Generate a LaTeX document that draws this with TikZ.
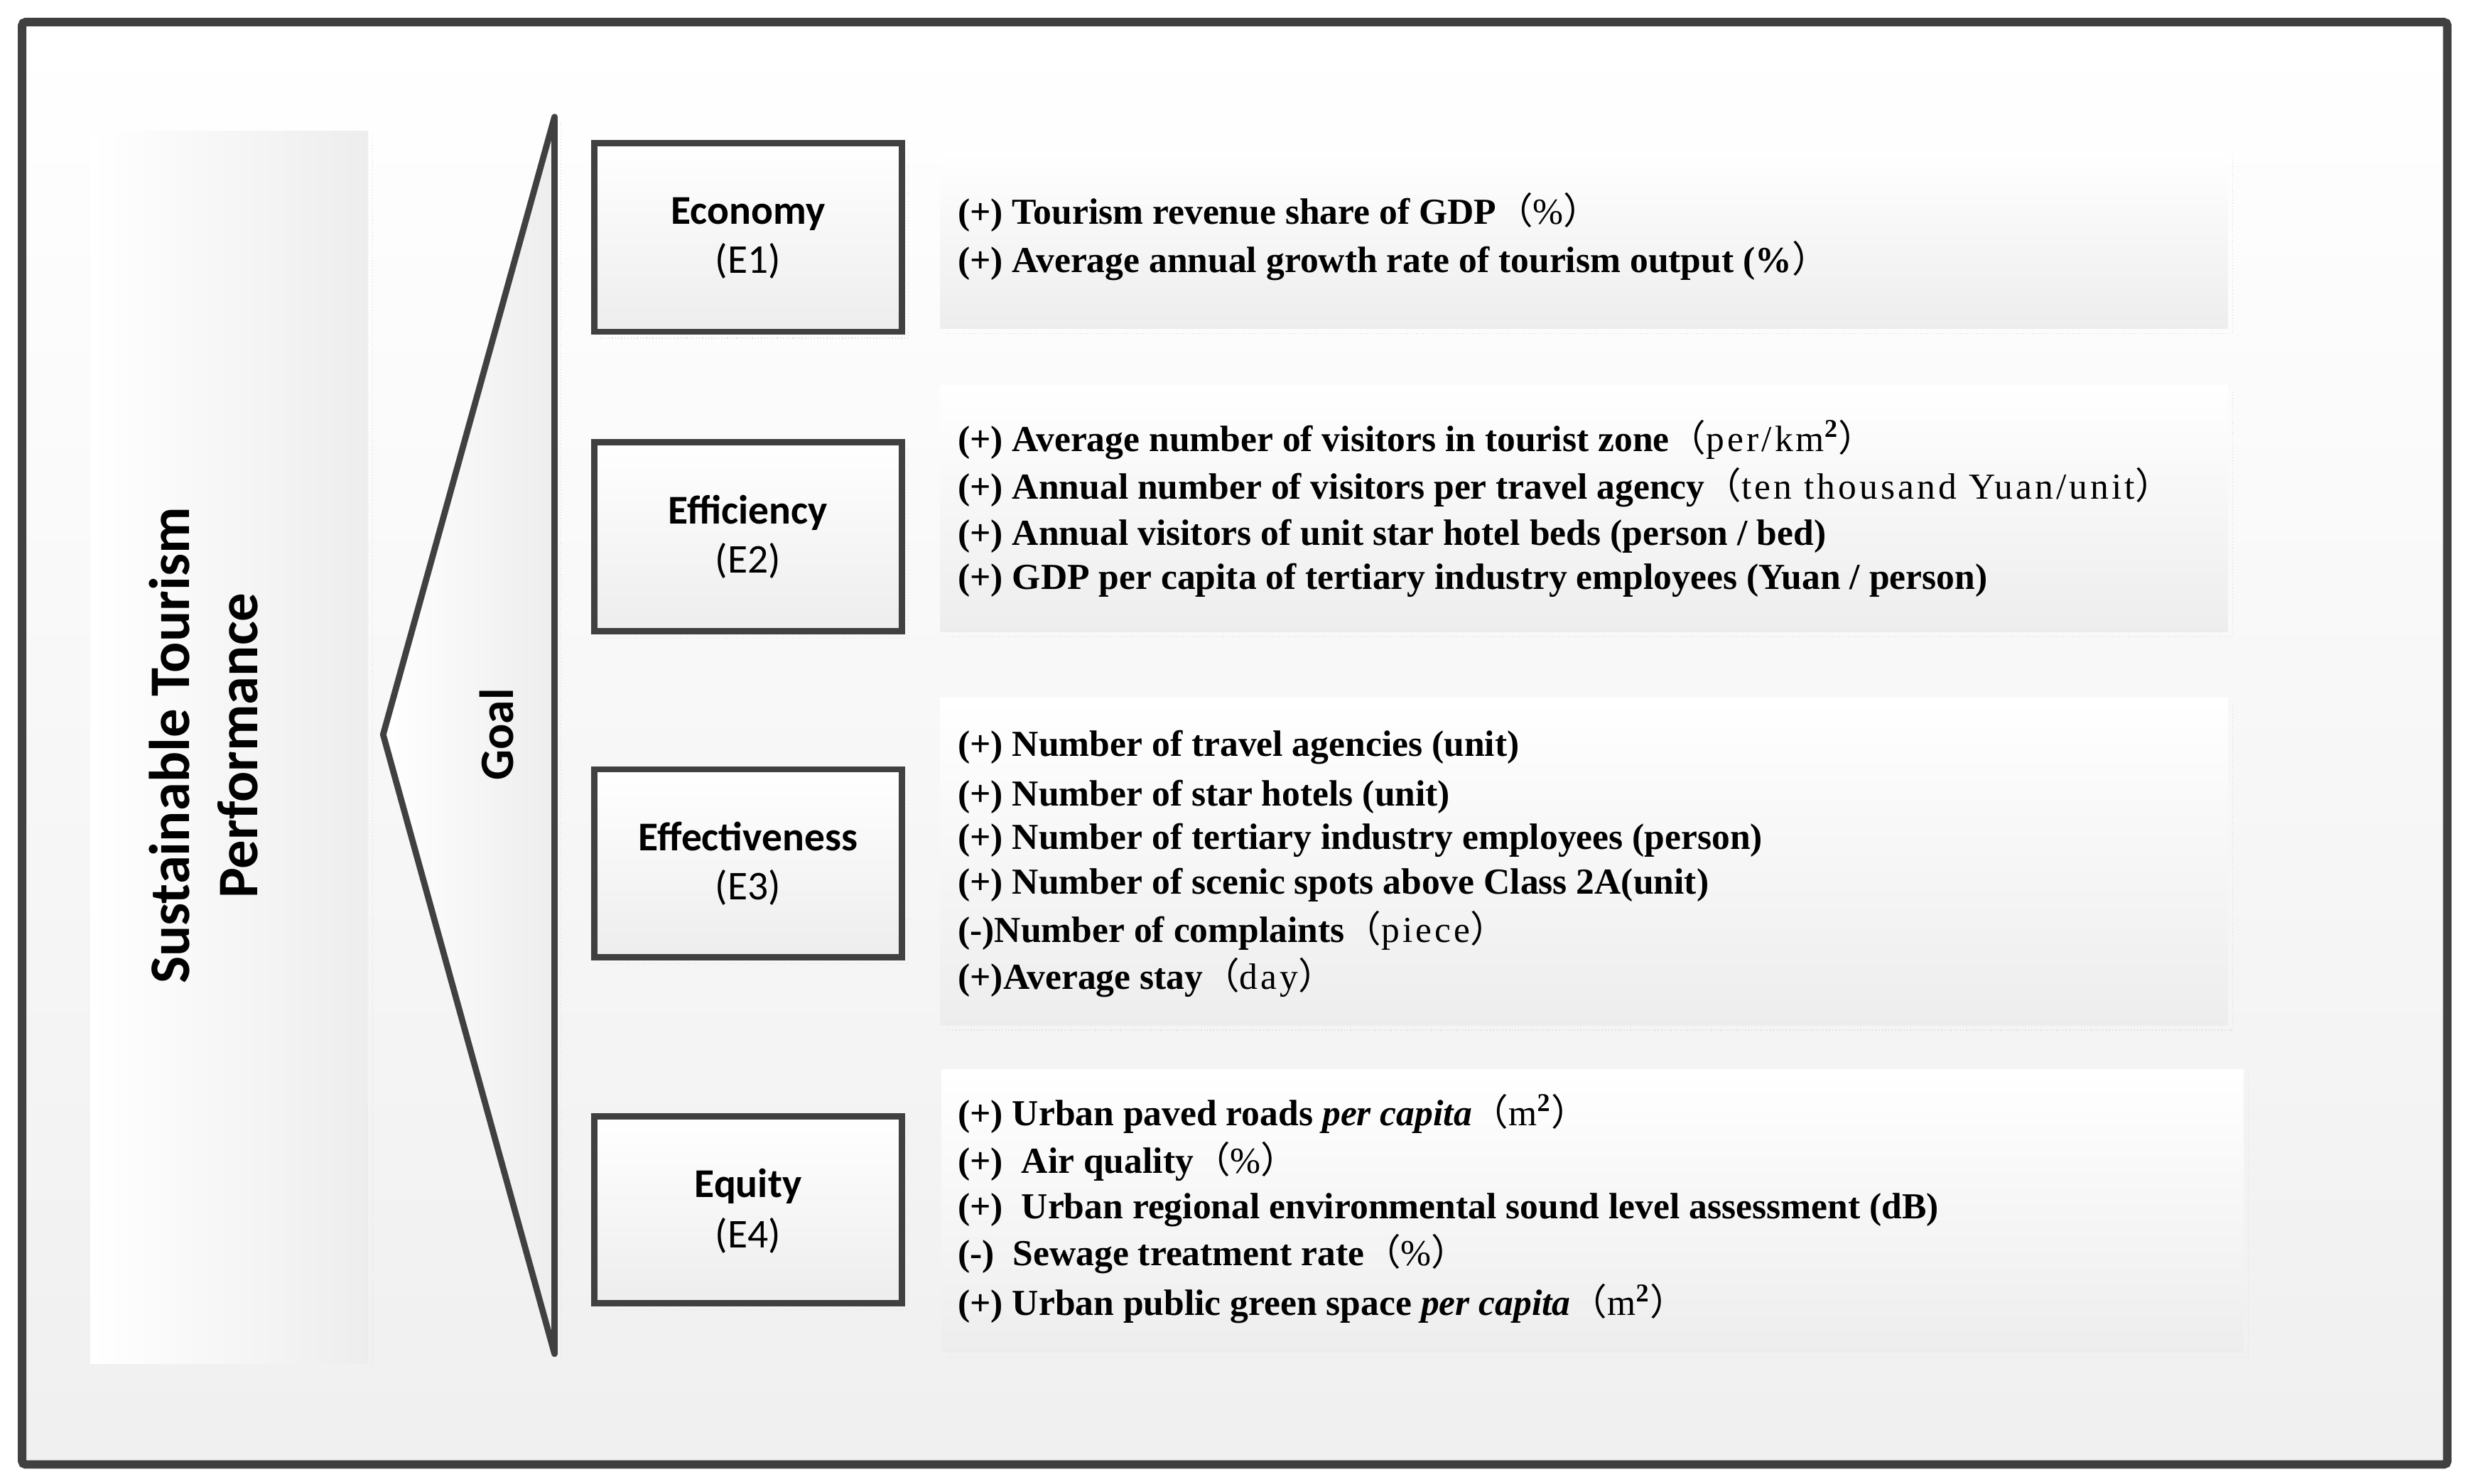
\documentclass[tikz,border=0pt]{standalone}
\usepackage{fontspec}
\setmainfont{Liberation Serif}
\newfontfamily\calibri{Carlito}
\newfontfamily\cjk{Noto Sans CJK SC}
\newfontfamily\simmono[LetterSpace=8]{Liberation Serif}
\newcommand{\fw}[1]{{\mdseries\upshape\cjk （}{\mdseries\upshape\simmono #1}{\mdseries\upshape\cjk ）}}
\definecolor{framegray}{HTML}{404040}
\tikzset{
  frame/.style={draw=framegray, line width=3.8pt, rounded corners=1.5pt, top color=white, bottom color=black!6},
  ebox/.style={draw=framegray, line width=2.85pt, top color=white, bottom color=black!7},
  panel/.style={top color=white, bottom color=black!7},
  item/.style={anchor=base west, inner sep=0pt, font=\fontsize{16.5}{19}\selectfont\bfseries},
  ename/.style={anchor=base, inner sep=0pt, font=\calibri\fontsize{18.4}{22}\selectfont\bfseries},
  ecode/.style={anchor=base, inner sep=0pt, font=\calibri\fontsize{18.4}{22}\selectfont},
  faint/.style={draw=black!14, densely dotted, line width=0.4pt}
}
\begin{document}
\begin{tikzpicture}[x=0.025cm, y=-0.025cm]
                \useasboundingbox (0,0) rectangle (1564,939);
                \draw [frame] (14,14) rectangle (1549,927);
%
                \shade [left color=white, right color=black!7] (57,83) rectangle (233,863);
                \draw [faint] (236,86) -- (236,866);
                \node [rotate=90, anchor=base, font=\calibri\fontsize{25.8}{30}\selectfont\bfseries] (stp) at (120,472) {Sustainable Tourism};
                \node [rotate=90, anchor=base, font=\calibri\fontsize{25.8}{30}\selectfont\bfseries] (perf) at (163,472) {Performance};
%
                \draw [draw=framegray, line width=2.8pt, line join=round, left color=white, right color=black!7] (351,74) -- (242.5,465) -- (351,857) -- cycle;
                \draw [faint] (355,78) -- (355,860);
                \node [rotate=90, anchor=base, font=\calibri\fontsize{21.6}{26}\selectfont\bfseries] (goal) at (325,465) {Goal};
%
                \draw [ebox] (376,90.5) rectangle (571,210);
                \draw [ebox] (376,280) rectangle (571,399.5);
                \draw [ebox] (376,487) rectangle (571,606);
                \draw [ebox] (376,706.5) rectangle (571,825);
                \draw [faint] (575,94) |- (380,214);
                \draw [faint] (575,284) |- (380,404);
                \draw [faint] (575,491) |- (380,610);
                \draw [faint] (575,710) |- (380,829);
                \node [ename] (e1) at (473.5,142) {Economy};
                \node [ecode] (c1) at (473.5,173) {(E1)};
                \node [ename] (e2) at (473.5,331.5) {Efficiency};
                \node [ecode] (c2) at (473.5,362.5) {(E2)};
                \node [ename] (e3) at (473.5,538.5) {Effectiveness};
                \node [ecode] (c3) at (473.5,569.5) {(E3)};
                \node [ename] (e4) at (473.5,758) {Equity};
                \node [ecode] (c4) at (473.5,790) {(E4)};
%
                \shade [panel] (595,95) rectangle (1410,208);
                \shade [panel] (595,244) rectangle (1410,400);
                \shade [panel] (595,442) rectangle (1410,649);
                \shade [panel] (596,677) rectangle (1420,856);
                \draw [faint] (1413,99) |- (599,211);
                \draw [faint] (1413,248) |- (599,403);
                \draw [faint] (1413,446) |- (599,652);
                \draw [faint] (1423,681) |- (600,859);
%
                \node [item] (i11) at (606,141.7) {(+) Tourism revenue share of GDP\fw{\%}};
                \node [item] (i12) at (606,172.4) {(+) Average annual growth rate of tourism output (\%{\mdseries\cjk ）}};
%
                \node [item] (i21) at (606,285.8) {(+) Average number of visitors in tourist zone\fw{per/km\textsuperscript{\bfseries 2}}};
                \node [item] (i22) at (606,315.9) {(+) Annual number of visitors per travel agency\fw{ten thousand Yuan/unit}};
                \node [item] (i23) at (606,345) {(+) Annual visitors of unit star hotel beds (person / bed)};
                \node [item] (i24) at (606,372.9) {(+) GDP per capita of tertiary industry employees (Yuan / person)};
%
                \node [item] (i31) at (606,478.8) {(+) Number of travel agencies (unit)};
                \node [item] (i32) at (606,510.3) {(+) Number of star hotels (unit)};
                \node [item] (i33) at (606,537.5) {(+) Number of tertiary industry employees (person)};
                \node [item] (i34) at (606,566) {(+) Number of scenic spots above Class 2A(unit)};
                \node [item] (i35) at (606,596.3) {(-)Number of complaints\fw{piece}};
                \node [item] (i36) at (606,626.3) {(+)Average stay\fw{day}};
%
                \node [item] (i41) at (606,712.5) {(+) Urban paved roads \textit{per capita}\fw{m\textsuperscript{\bfseries 2}}};
                \node [item] (i42) at (606,742.6) {(+)\ \ Air quality\fw{\%}};
                \node [item] (i43) at (606,771.2) {(+)\ \ Urban regional environmental sound level assessment (dB)};
                \node [item] (i44) at (606,801.3) {(-)\ \ Sewage treatment rate\fw{\%}};
                \node [item] (i45) at (606,832.8) {(+) Urban public green space \textit{per capita}\fw{m\textsuperscript{\bfseries 2}}};
\end{tikzpicture}
\end{document}
